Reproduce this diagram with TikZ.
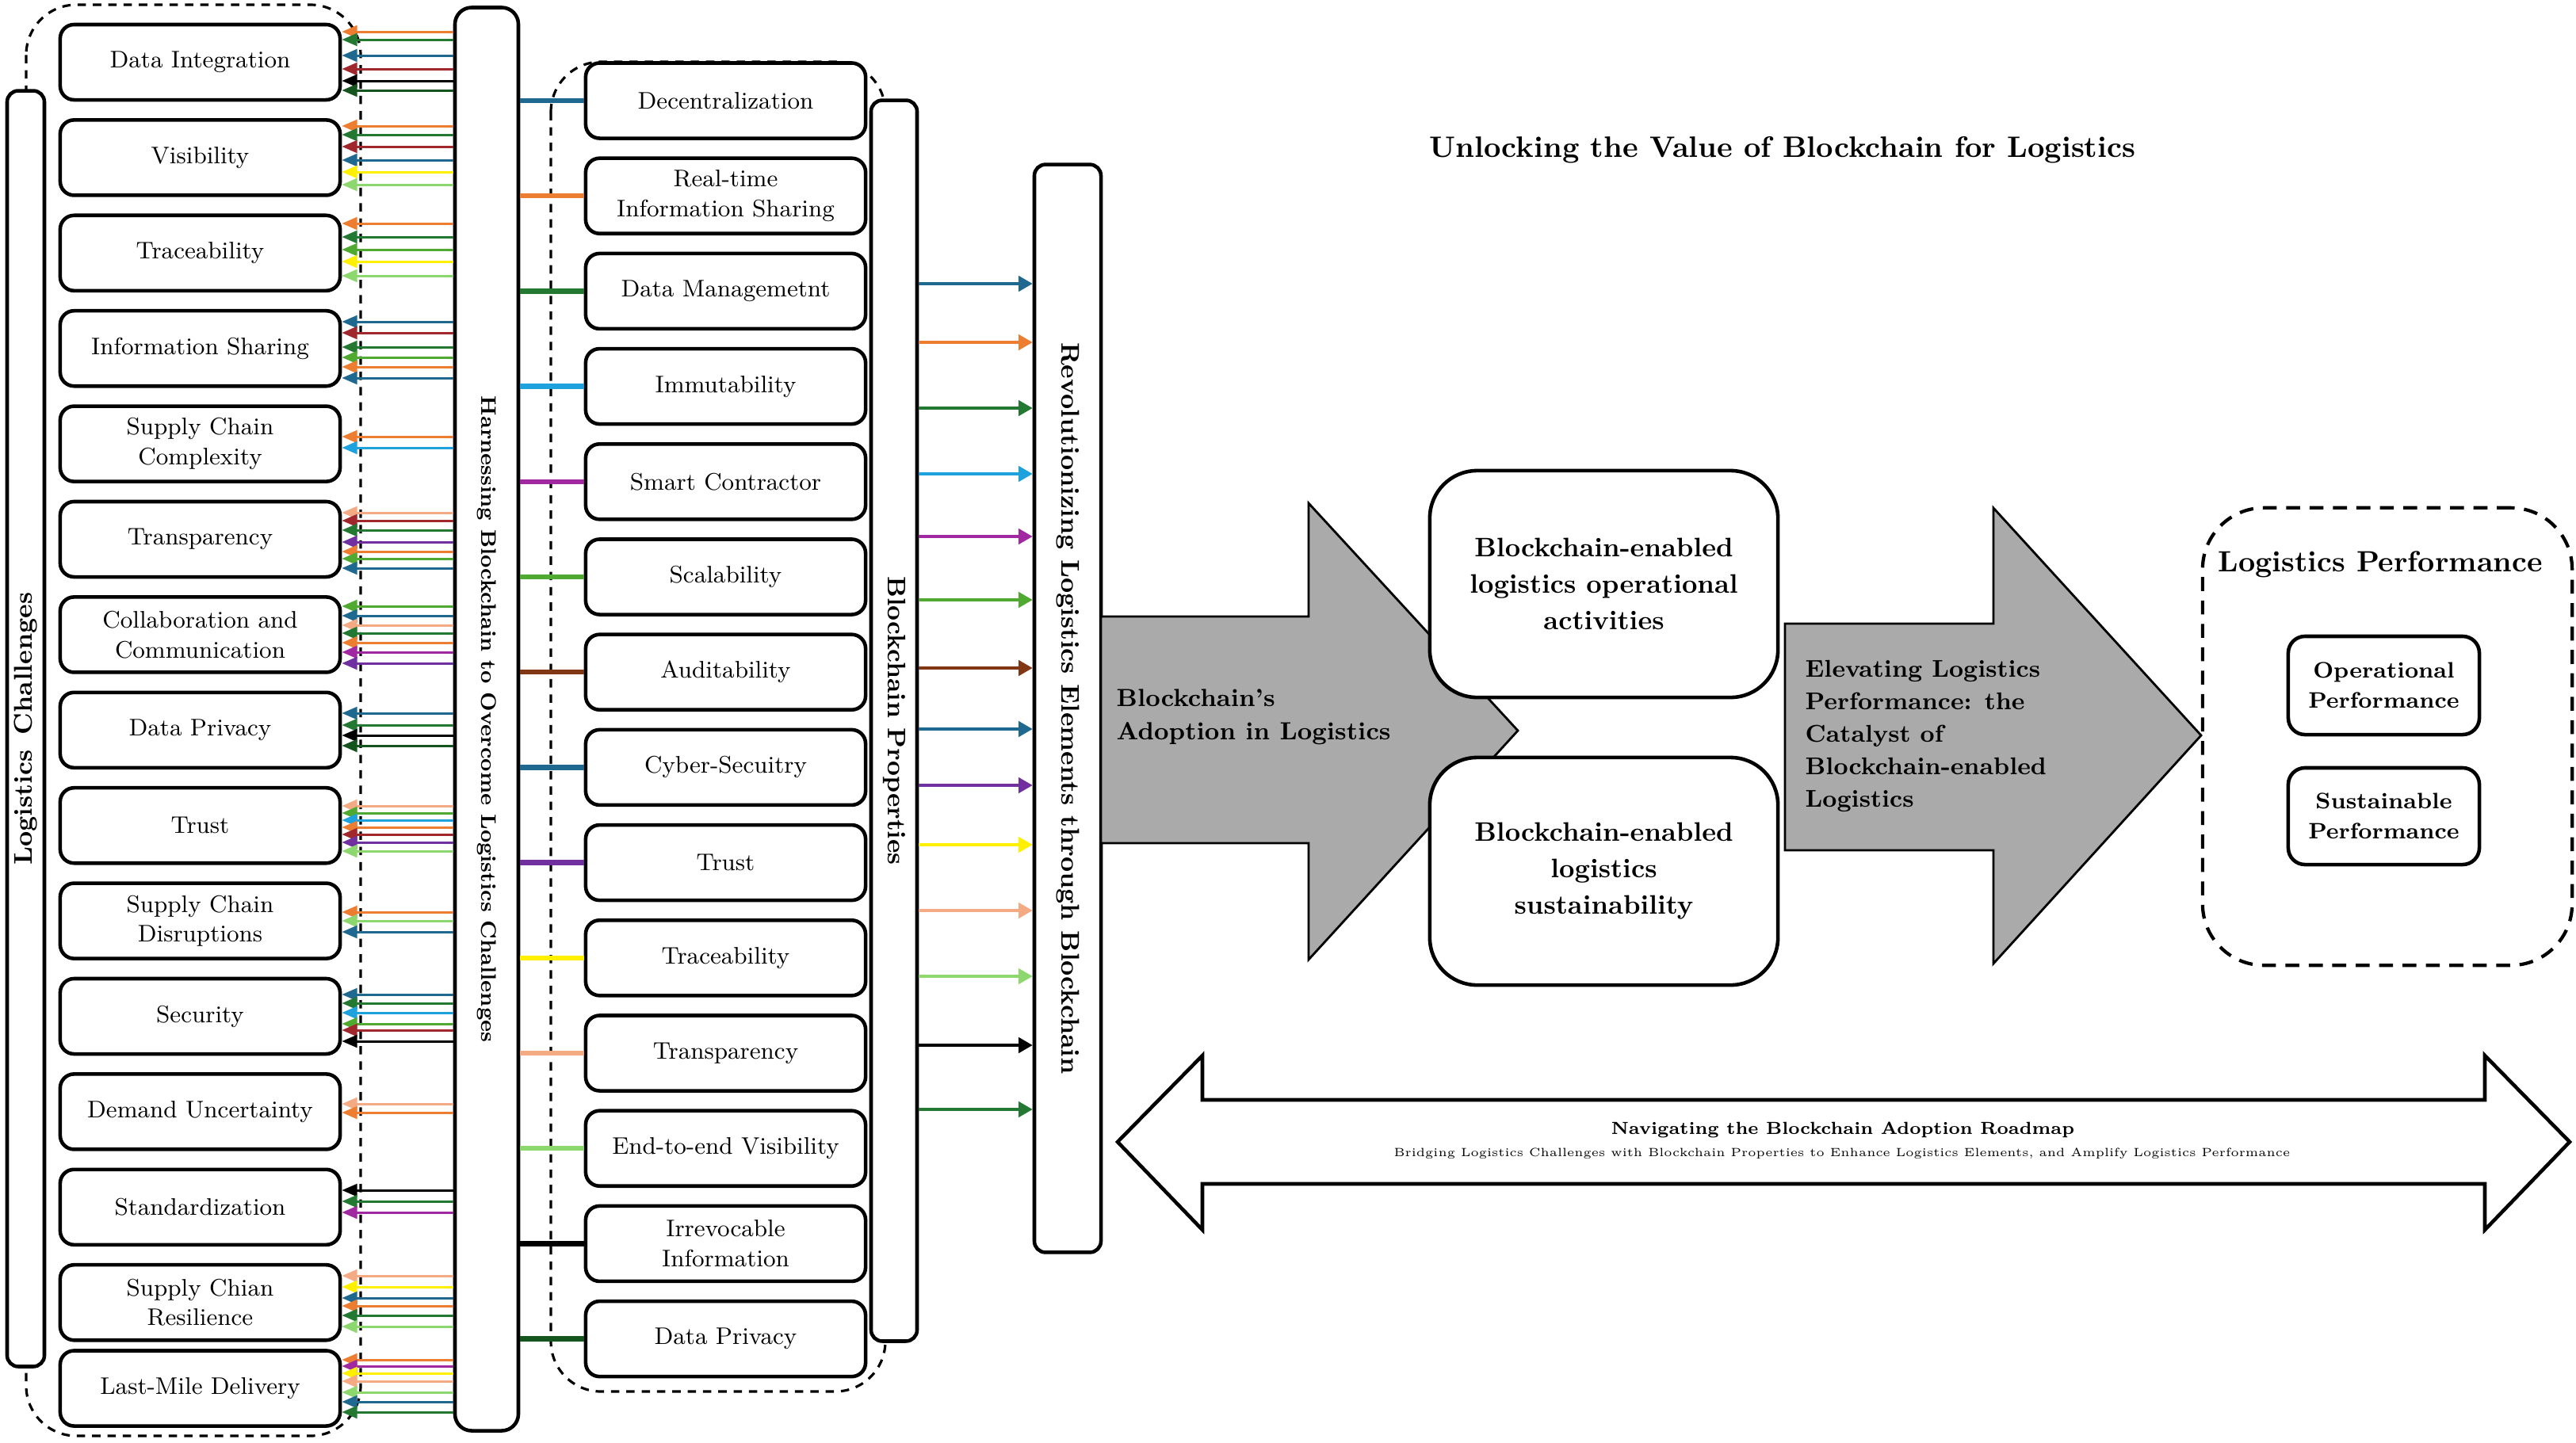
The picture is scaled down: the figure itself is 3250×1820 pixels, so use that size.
\documentclass[tikz,border=0pt]{standalone}
\usetikzlibrary{arrows.meta}
\definecolor{cTeal}{RGB}{31,105,145}
\definecolor{cOrange}{RGB}{237,125,49}
\definecolor{cDGreen}{RGB}{35,120,50}
\definecolor{cSky}{RGB}{30,162,222}
\definecolor{cMag}{RGB}{160,40,160}
\definecolor{cGreen}{RGB}{80,170,50}
\definecolor{cBrown}{RGB}{130,55,20}
\definecolor{cRed}{RGB}{160,40,45}
\definecolor{cPurple}{RGB}{112,48,160}
\definecolor{cYellow}{RGB}{255,240,0}
\definecolor{cPeach}{RGB}{244,170,130}
\definecolor{cLGreen}{RGB}{140,215,110}
\definecolor{cVDGreen}{RGB}{20,85,30}
\definecolor{cGray}{RGB}{170,170,170}
\begin{document}
\begin{tikzpicture}[x=0.01cm,y=-0.01cm,
  cbox/.style={draw, line width=1.3pt, rounded corners=5pt, fill=white, minimum width=3.53cm, minimum height=0.95cm, inner sep=0pt, align=center, font=\fontsize{8.6}{10.7}\selectfont},
  bar/.style={draw, line width=1.3pt, rounded corners=4pt, fill=white, inner sep=0pt},
  vtext/.style={font=\bfseries\fontsize{#1}{11}\selectfont, inner sep=0pt},
  la/.style={line width=0.85pt, -{Triangle[length=5.5pt,width=4.5pt]}},
  ma/.style={line width=1pt, -{Triangle[length=5pt,width=5.5pt]}},
  pl/.style={line width=1.8pt},
  grp/.style={draw, dash pattern=on 3pt off 2.5pt, line width=0.9pt, rounded corners=18pt},
  bigarrow/.style={fill=cGray, draw=black, line width=0.8pt},
  bigbox/.style={draw, line width=1.3pt, rounded corners=17pt, fill=white, minimum width=4.39cm, minimum height=2.86cm, inner sep=0pt, align=center, font=\bfseries\fontsize{9.6}{13.1}\selectfont},
  pbox/.style={draw, line width=1.3pt, rounded corners=6pt, fill=white, minimum width=2.41cm, minimum height=1.24cm, inner sep=0pt, align=center, font=\bfseries\fontsize{8}{10.8}\selectfont}
]
\useasboundingbox (0,0) rectangle (3250,1820);

% ---------- group outlines ----------
\draw[grp] (33,6) rectangle (455,1812);
\draw[grp] (695,78) rectangle (1117,1756);

% ---------- vertical bars ----------
\node[bar, minimum width=0.47cm, minimum height=16.09cm] (lcbar) at (32.5,919.5) {};
\node[vtext=9.2, rotate=90] (lctxt) at (lcbar.center) {Logistics\hspace{0.6em}Challenges};

\node[bar, rounded corners=6pt, minimum width=0.8cm, minimum height=17.95cm] (harn) at (614,907.5) {};
\node[vtext=7.6, rotate=-90] (harntxt) at (harn.center) {Harnessing Blockchain to Overcome Logistics Challenges};

\node[bar, minimum width=0.58cm, minimum height=15.65cm] (bp) at (1128,909.5) {};
\node[vtext=9.1, rotate=-90] (bptxt) at (bp.center) {Blockchain Properties};

\node[bar, minimum width=0.84cm, minimum height=13.72cm] (rev) at (1347,894) {};
\node[vtext=9.2, rotate=-90] (revtxt) at (rev.center) {Revolutionizing Logistics Elements through Blockchain};

% ---------- logistics challenges ----------
\foreach \i/\y/\t in {1/78.5/{Data Integration}, 2/198.9/{Visibility}, 3/319.3/{Traceability},
  4/439.7/{Information Sharing}, 5/560.1/{Supply Chain\\Complexity}, 6/680.5/{Transparency},
  7/800.9/{Collaboration and\\Communication}, 8/921.3/{Data Privacy}, 9/1041.7/{Trust},
  10/1162.1/{Supply Chain\\Disruptions}, 11/1282.5/{Security}, 12/1402.9/{Demand Uncertainty},
  13/1523.3/{Standardization}, 14/1643.7/{Supply Chian\\Resilience}, 15/1752/{Last-Mile Delivery}}
  \node[cbox] (c\i) at (252.5,\y) {\t};

% ---------- blockchain properties ----------
\foreach \i/\y/\t in {1/127/{Decentralization}, 2/247.2/{Real-time\\Information Sharing},
  3/367.4/{Data Managemetnt}, 4/487.6/{Immutability}, 5/607.8/{Smart Contractor},
  6/728/{Scalability}, 7/848.2/{Auditability}, 8/968.4/{Cyber-Secuitry}, 9/1088.6/{Trust},
  10/1208.8/{Traceability}, 11/1329/{Transparency}, 12/1449.2/{End-to-end Visibility},
  13/1569.4/{Irrevocable\\Information}, 14/1689.6/{Data Privacy}}
  \node[cbox] (p\i) at (915.5,\y) {\t};

% ---------- lines harnessing -> properties ----------
\foreach \i/\c in {1/cTeal,2/cOrange,3/cDGreen,4/cSky,5/cMag,6/cGreen,7/cBrown,8/cTeal,
  9/cPurple,10/cYellow,11/cPeach,12/cLGreen,13/black,14/cVDGreen}
  \draw[pl,\c] (harn.east |- p\i.west) -- (p\i.west);

% ---------- arrows harnessing -> challenges ----------
\foreach \y/\c in {40/cOrange,50/cDGreen,70/cTeal,87/cRed,102/black,114/cVDGreen}
  \draw[la,\c] (harn.west |- 0,\y) -- (c1.east |- 0,\y);
\foreach \y/\c in {159/cOrange,170/cDGreen,185/cRed,202/cTeal,217/cYellow,233/cLGreen}
  \draw[la,\c] (harn.west |- 0,\y) -- (c2.east |- 0,\y);
\foreach \y/\c in {282/cOrange,299/cDGreen,315/cGreen,330/cYellow,348/cLGreen}
  \draw[la,\c] (harn.west |- 0,\y) -- (c3.east |- 0,\y);
\foreach \y/\c in {406/cTeal,420/cRed,438/cDGreen,451/cGreen,463/cOrange,477/cTeal}
  \draw[la,\c] (harn.west |- 0,\y) -- (c4.east |- 0,\y);
\foreach \y/\c in {551/cOrange,565/cSky}
  \draw[la,\c] (harn.west |- 0,\y) -- (c5.east |- 0,\y);
\foreach \y/\c in {647/cPeach,657/cRed,669/cDGreen,684/cPurple,696/cOrange,705/cGreen,717/cTeal}
  \draw[la,\c] (harn.west |- 0,\y) -- (c6.east |- 0,\y);
\foreach \y/\c in {765/cGreen,777/cTeal,789/cPeach,799/cDGreen,811/cOrange,823/cMag,837/cPurple}
  \draw[la,\c] (harn.west |- 0,\y) -- (c7.east |- 0,\y);
\foreach \y/\c in {900/cTeal,915/cDGreen,928/black,941/cVDGreen}
  \draw[la,\c] (harn.west |- 0,\y) -- (c8.east |- 0,\y);
\foreach \y/\c in {1017/cPeach,1026/cGreen,1035/cSky,1044/cOrange,1053/cRed,1063/cPurple,1074/cLGreen}
  \draw[la,\c] (harn.west |- 0,\y) -- (c9.east |- 0,\y);
\foreach \y/\c in {1151/cOrange,1162/cLGreen,1176/cTeal}
  \draw[la,\c] (harn.west |- 0,\y) -- (c10.east |- 0,\y);
\foreach \y/\c in {1255/cTeal,1266/cDGreen,1278/cSky,1292/cGreen,1300/cRed,1314/black}
  \draw[la,\c] (harn.west |- 0,\y) -- (c11.east |- 0,\y);
\foreach \y/\c in {1393/cPeach,1404/cOrange}
  \draw[la,\c] (harn.west |- 0,\y) -- (c12.east |- 0,\y);
\foreach \y/\c in {1502/black,1516/cDGreen,1530/cMag}
  \draw[la,\c] (harn.west |- 0,\y) -- (c13.east |- 0,\y);
\foreach \y/\c in {1610/cPeach,1624/cYellow,1638/cTeal,1648/cOrange,1660/cDGreen,1674/cLGreen}
  \draw[la,\c] (harn.west |- 0,\y) -- (c14.east |- 0,\y);
\foreach \y/\c in {1716/cOrange,1724/cMag,1733/cYellow,1743/cPeach,1757/cLGreen,1769/cTeal,1782/cDGreen}
  \draw[la,\c] (harn.west |- 0,\y) -- (c15.east |- 0,\y);

% ---------- arrows properties bar -> revolutionizing bar ----------
\foreach \y/\c in {358/cTeal,432/cOrange,515/cDGreen,598/cSky,677/cMag,757/cGreen,843/cBrown,
  920/cTeal,991/cPurple,1066/cYellow,1149/cPeach,1232/cLGreen,1319/black,1400/cDGreen}
  \draw[ma,\c] (bp.east |- 0,\y) -- (rev.west |- 0,\y);

% ---------- title ----------
\node[font=\bfseries\fontsize{10.6}{12}\selectfont] (title) at (2249,189) {Unlocking the Value of Blockchain for Logistics};

% ---------- big arrow 1 ----------
\draw[bigarrow] (1389,778) -- (1651,778) -- (1651,635) -- (1915,922) -- (1651,1211) -- (1651,1064) -- (1389,1064) -- cycle;
\node[anchor=west, align=left, inner sep=0pt, font=\bfseries\fontsize{8.9}{12}\selectfont] (adopt) at (1408,905) {Blockchain’s\\Adoption in Logistics};

\node[bigbox] (ops) at (2023.5,737) {Blockchain-enabled\\logistics operational\\activities};
\node[bigbox, minimum height=2.87cm] (sus) at (2023.5,1099.5) {Blockchain-enabled\\logistics\\sustainability};

% ---------- big arrow 2 ----------
\draw[bigarrow] (2252,787) -- (2515,787) -- (2515,641) -- (2777,928) -- (2515,1216) -- (2515,1073) -- (2252,1073) -- cycle;
\node[anchor=west, align=left, inner sep=0pt, font=\bfseries\fontsize{8.7}{11.7}\selectfont] (elev) at (2277,929) {Elevating Logistics\\Performance: the\\Catalyst of\\Blockchain-enabled\\Logistics};

% ---------- logistics performance ----------
\node[draw, dash pattern=on 5pt off 3.4pt, line width=1.2pt, rounded corners=22pt, minimum width=4.66cm, minimum height=5.77cm, inner sep=0pt] (lpbox) at (3012,929.5) {};
\node[font=\bfseries\fontsize{10.5}{12}\selectfont] (lptitle) at (3003,712) {Logistics Performance};
\node[pbox] (opbox) at (3007.5,865) {Operational\\Performance};
\node[pbox, minimum height=1.22cm] (susbox) at (3007.5,1030) {Sustainable\\Performance};

% ---------- double arrow ----------
\draw[fill=white, line width=1.3pt] (1410,1441) -- (1517,1332) -- (1517,1388) -- (3135,1388) -- (3135,1332) -- (3242,1441) -- (3135,1552) -- (3135,1494) -- (1517,1494) -- (1517,1552) -- cycle;
\node[inner sep=0pt] (nav) at (2325,1426) {\resizebox{5.84cm}{!}{\bfseries\fontsize{6.5}{7.5}\selectfont Navigating the Blockchain Adoption Roadmap}};
\node[inner sep=0pt] (bridge) at (2324,1456) {\resizebox{11.3cm}{!}{\fontsize{5}{6}\selectfont Bridging Logistics Challenges with Blockchain Properties to Enhance Logistics Elements, and Amplify Logistics Performance}};

\end{tikzpicture}
\end{document}
